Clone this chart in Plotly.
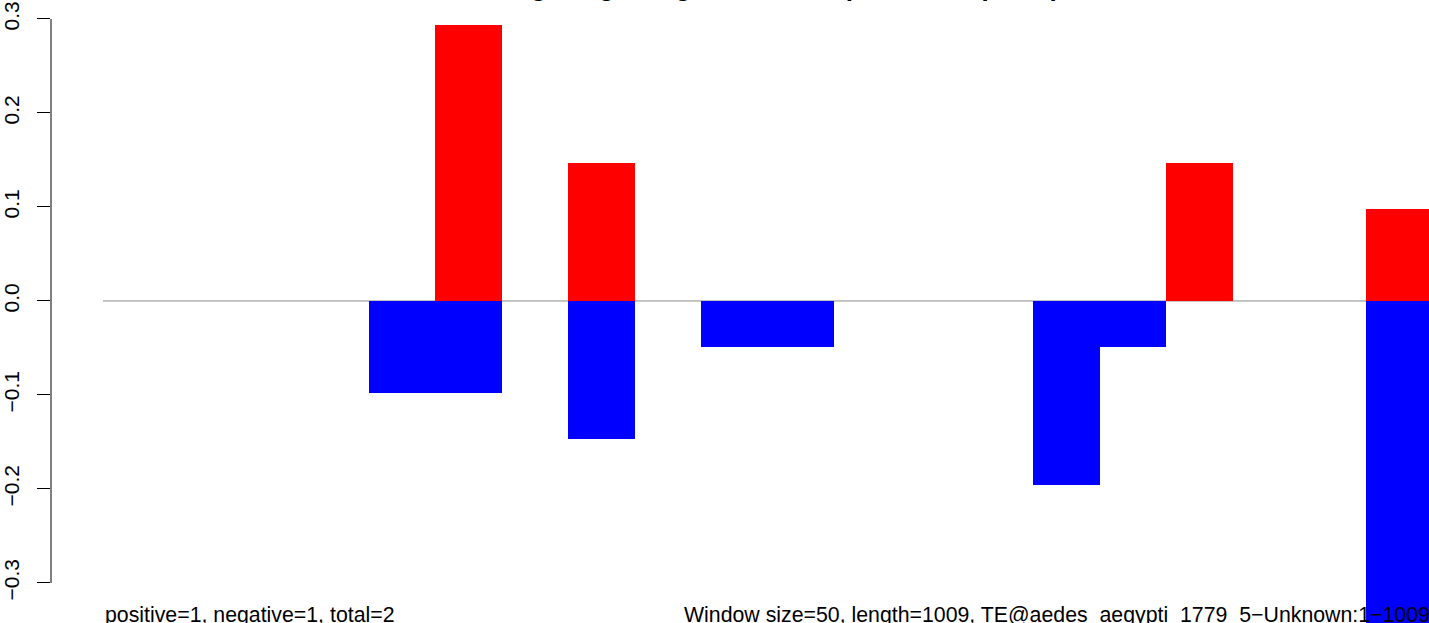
import plotly.graph_objects as go

# ---- data (20 windows of size 50 over length 1009) ----
window_index = list(range(20))
pos_values = [0, 0, 0, 0, 0, 0.294, 0, 0.147, 0, 0, 0, 0, 0, 0, 0, 0, 0.147, 0, 0, 0.098]
neg_values = [0, 0, 0, 0, -0.098, -0.098, 0, -0.147, 0, -0.049, -0.049, 0, 0, 0, -0.196, -0.049, 0, 0, 0, -0.392]
y_ticks = [-0.3, -0.2, -0.1, 0.0, 0.1, 0.2, 0.3]
y_tick_text = ["\u22120.3", "\u22120.2", "\u22120.1", "0.0", "0.1", "0.2", "0.3"]
title_text = "Sliding_length_signal_of_TE_up_and_deep_map"
left_note = "positive=1, negative=1, total=2"
right_note = "Window size=50, length=1009, TE@aedes_aegypti_1779_5\u2212Unknown:1\u22121009"

centers = [i + 0.5 for i in window_index]
FONT = "Liberation Sans, Arial, Helvetica, sans-serif"

fig = go.Figure()
fig.add_trace(go.Bar(x=centers, y=pos_values, width=1, marker=dict(color="#FF0000", line=dict(width=0)),
                     showlegend=False, hoverinfo="skip"))
fig.add_trace(go.Bar(x=centers, y=neg_values, width=1, marker=dict(color="#0000FF", line=dict(width=0)),
                     showlegend=False, hoverinfo="skip"))

# zero reference line across the windows
fig.add_shape(type="line", x0=0, x1=len(window_index), y0=0, y1=0, xref="x", yref="y",
              line=dict(color="#8c8c8c", width=1), layer="below")
# y axis line from -0.3 to 0.3
fig.add_shape(type="line", x0=0, x1=0, y0=min(y_ticks), y1=max(y_ticks), xref="paper", yref="y",
              line=dict(color="black", width=1))

fig.add_annotation(text=left_note, x=0, xref="x", y=0, yref="paper", xanchor="left", yanchor="bottom",
                   yshift=-6, showarrow=False, font=dict(family=FONT, size=21.3, color="black"))
fig.add_annotation(text=right_note, x=1.0022, xref="paper", y=0, yref="paper", xanchor="right",
                   yanchor="bottom", yshift=-6, showarrow=False, font=dict(family=FONT, size=21.3, color="black"))
fig.add_annotation(text="<b>" + title_text + "</b>", x=0.516, xref="paper", y=1, yref="paper",
                   xanchor="center", yanchor="bottom", yshift=-4.3, showarrow=False,
                   font=dict(family=FONT, size=26, color="black"))

fig.update_layout(
    width=1429, height=623,
    margin=dict(l=51, r=0, t=0, b=0),
    paper_bgcolor="white", plot_bgcolor="white",
    barmode="overlay", bargap=0,
    font=dict(family=FONT, size=21, color="black"),
    xaxis=dict(range=[-0.7825, 19.955], visible=False, showgrid=False, zeroline=False),
    yaxis=dict(range=[-0.3426, 0.3202], showgrid=False, zeroline=False, showline=False,
               tickmode="array", tickvals=y_ticks, ticktext=y_tick_text, tickangle=-90,
               ticks="outside", ticklen=13, tickwidth=1, tickcolor="black",
               ticklabelstandoff=10, tickfont=dict(family=FONT, size=21, color="black")),
)

fig.write_html("out.html", config={"displayModeBar": False},
               post_script="document.body.style.margin='0';")
